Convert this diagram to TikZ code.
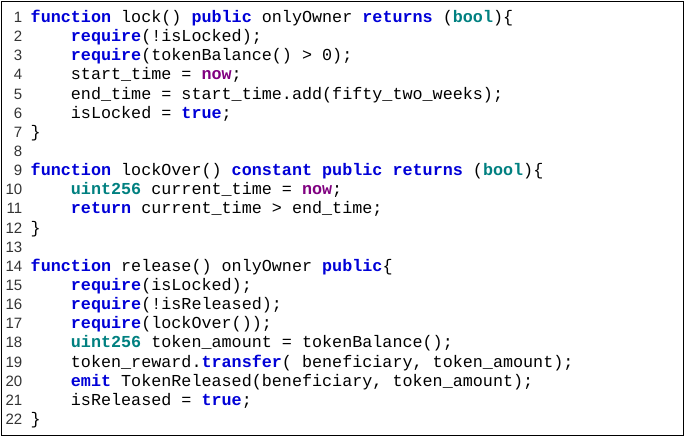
\documentclass[tikz,border=0pt]{standalone}
\usepackage{fontspec}
\setmonofont{Liberation Mono}
\newfontfamily\numfont{Liberation Sans}
\definecolor{kwc}{RGB}{0,0,215}
\definecolor{tyc}{RGB}{0,128,128}
\definecolor{puc}{RGB}{128,0,128}
\newcommand{\kw}[1]{\textcolor{kwc}{\textbf{#1}}}
\newcommand{\ty}[1]{\textcolor{tyc}{\textbf{#1}}}
\newcommand{\pu}[1]{\textcolor{puc}{\textbf{#1}}}
\begin{document}
\begin{tikzpicture}[x=1pt,y=-1pt,
  code/.style={anchor=base west,inner sep=0pt,font=\ttfamily\fontsize{16.75}{18}\selectfont},
  lnum/.style={anchor=base east,inner sep=0pt,font=\numfont\fontsize{15}{18}\selectfont,text=black!80}]
\useasboundingbox (0,0) rectangle (685,437);
\draw[line width=1pt] (1.5,1.5) rectangle (683.5,435.5);
\foreach \i in {1,...,22}{\node[lnum] (n\i) at (22.5,{22.5+(\i-1)*19.14}) {\i};}
\newcommand{\cl}[3]{\node[code] (c#1) at (#2,{22.5+(#1-1)*19.14}) {#3};}
\cl{1}{30.5}{\kw{function} lock() \kw{public} onlyOwner \kw{returns} (\ty{bool})\{}
\cl{2}{70.7}{\kw{require}(!isLocked);}
\cl{3}{70.7}{\kw{require}(tokenBalance() > 0);}
\cl{4}{70.7}{start\_time = \pu{now};}
\cl{5}{70.7}{end\_time = start\_time.add(fifty\_two\_weeks);}
\cl{6}{70.7}{isLocked = \kw{true};}
\cl{7}{30.5}{\}}
\cl{9}{30.5}{\kw{function} lockOver() \kw{constant} \kw{public} \kw{returns} (\ty{bool})\{}
\cl{10}{70.7}{\ty{uint256} current\_time = \pu{now};}
\cl{11}{70.7}{\kw{return} current\_time > end\_time;}
\cl{12}{30.5}{\}}
\cl{14}{30.5}{\kw{function} release() onlyOwner \kw{public}\{}
\cl{15}{70.7}{\kw{require}(isLocked);}
\cl{16}{70.7}{\kw{require}(!isReleased);}
\cl{17}{70.7}{\kw{require}(lockOver());}
\cl{18}{70.7}{\ty{uint256} token\_amount = tokenBalance();}
\cl{19}{70.7}{token\_reward.\kw{transfer}( beneficiary, token\_amount);}
\cl{20}{70.7}{\kw{emit} TokenReleased(beneficiary, token\_amount);}
\cl{21}{70.7}{isReleased = \kw{true};}
\cl{22}{30.5}{\}}
\end{tikzpicture}
\end{document}
